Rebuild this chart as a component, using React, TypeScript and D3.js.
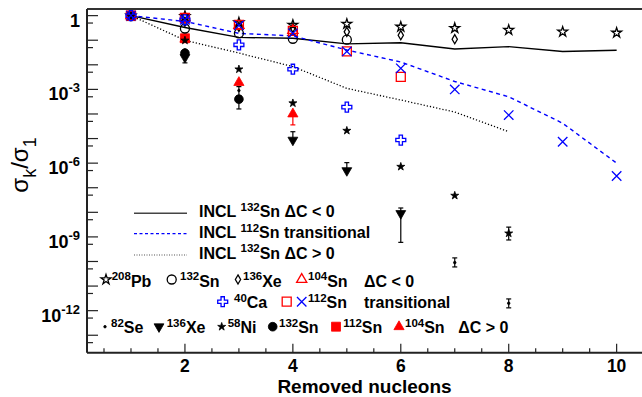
import * as d3 from "d3";

const W = 642;
const H = 397;
const FONT = "'Liberation Sans', Arial, Helvetica, sans-serif";

const STEPS = [1, 2, 3, 4, 5, 6, 7, 8, 9, 10];

// INCL curves (x = 1..n)
const INCL_132SN_NEG = [1, 0.33, 0.13, 0.12, 0.071, 0.079, 0.044, 0.055, 0.035, 0.039];
const INCL_112SN_TRANS = [1, 0.58, 0.19, 0.15, 0.04, 0.013, 2.1e-3, 5e-4, 4.2e-5, 1e-6];
const INCL_132SN_POS = [1, 0.1, 0.03, 8.5e-3, 1.1e-3, 3.7e-4, 1.2e-4, 1.9e-5];

// data, ΔC < 0
const PB208 = [1, 0.95, 0.52, 0.42, 0.46, 0.35, 0.31, 0.26, 0.22, 0.2];
const SN132_OPEN = [1, 0.3, 0.19, 0.115, 0.105];
const XE136_OPEN = [1, 0.56, 0.35, 0.32, 0.22, 0.16, 0.11];
const SN104_OPEN = [1, 0.83, 0.4, 0.25];

// data, transitional
const CA40 = [1, 0.68, 0.065, 6.6e-3, 1.9e-4, 8.7e-6];
const SN112_SQ = [1, 0.8, 0.42, 0.24, 0.035, 3.2e-3];
const SN112_X = [1, 0.68, 0.4, 0.19, 0.035, 7.2e-3, 1e-3, 9e-5, 7.4e-6, 3e-7];

// data, ΔC > 0
const SE82_STEPS = [1, 2, 3, 7, 8];
const SE82 = [1, 0.04, 9e-4, 9e-11, 2e-12];
const XE136_STEPS = [1, 2, 4, 5, 6];
const XE136_FULL = [1, 0.02, 8.7e-6, 5e-7, 9e-9];
const NI58 = [1, 0.098, 6.6e-3, 2.75e-4, 2.1e-5, 7.2e-7, 4.8e-8, 1.4e-9];
const SN132_FULL = [1, 0.03, 4e-4];
const SN112_FULL = [1, 0.12];
const SN104_FULL = [1, 0.11, 1.9e-3, 1e-4];

// error bars: series, step, low, high
const ERRORS: [string, number, number, number][] = [
  ["sn132f", 3, 1.6e-4, 4e-4],
  ["sn104f", 4, 3.6e-5, 1e-4],
  ["xe136f", 2, 0.012, 0.02],
  ["xe136f", 4, 8.7e-6, 1.9e-5],
  ["xe136f", 5, 5e-7, 1.05e-6],
  ["xe136f", 6, 6e-10, 1.5e-8],
  ["ni58", 8, 7.5e-10, 2.5e-9],
  ["se82", 3, 5.5e-4, 1.3e-3],
  ["se82", 7, 6e-11, 1.4e-10],
  ["se82", 8, 1.3e-12, 3e-12],
];

const x = d3.scaleLinear().domain([0.185, 10.47]).range([87, 642]);
const y = d3.scaleLog().domain([Math.pow(10, -13.71), Math.pow(10, 0.27)]).range([352.7, 9]);

type MK =
  | "starOpen" | "circleOpen" | "diamondOpen" | "triOpen" | "crossOpen" | "squareOpen" | "times"
  | "dot" | "triDown" | "starFull" | "circleFull" | "squareFull" | "triFull";

const SYM: Record<MK, [d3.SymbolType, number, boolean, number]> = {
  starOpen: [d3.symbolStar, 30, false, 0],
  circleOpen: [d3.symbolCircle, 64, false, 0],
  diamondOpen: [d3.symbolDiamond, 24, false, 0],
  triOpen: [d3.symbolTriangle, 45, false, 0],
  crossOpen: [d3.symbolCross, 55, false, 0],
  squareOpen: [d3.symbolSquare, 81, false, 0],
  times: [(d3 as any).symbolTimes || (d3 as any).symbolX, 60, false, 0],
  dot: [d3.symbolCircle, 5, true, 0],
  triDown: [d3.symbolTriangle, 42, true, 180],
  starFull: [d3.symbolStar, 20, true, 0],
  circleFull: [d3.symbolCircle, 60, true, 0],
  squareFull: [d3.symbolSquare, 81, true, 0],
  triFull: [d3.symbolTriangle, 45, true, 0],
};

function Marker({ cx, cy, type, color }: { cx: number; cy: number; type: MK; color: string }) {
  const [sym, size, filled, rot] = SYM[type];
  const d = d3.symbol(sym, size)() || "";
  return (
    <path
      d={d}
      transform={`translate(${cx},${cy}) rotate(${rot})`}
      fill={filled ? color : "none"}
      stroke={color}
      strokeWidth={filled ? 0.8 : 1.3}
    />
  );
}

const RED = "#ff0000";
const BLUE = "#0000ff";
const BLACK = "#000";

const SERIES: { key: string; steps: number[]; values: number[]; type: MK; color: string }[] = [
  { key: "sn112f", steps: STEPS, values: SN112_FULL, type: "squareFull", color: RED },
  { key: "sn104f", steps: STEPS, values: SN104_FULL, type: "triFull", color: RED },
  { key: "sn132f", steps: STEPS, values: SN132_FULL, type: "circleFull", color: BLACK },
  { key: "xe136f", steps: XE136_STEPS, values: XE136_FULL, type: "triDown", color: BLACK },
  { key: "ni58", steps: STEPS, values: NI58, type: "starFull", color: BLACK },
  { key: "se82", steps: SE82_STEPS, values: SE82, type: "dot", color: BLACK },
  { key: "sn132o", steps: STEPS, values: SN132_OPEN, type: "circleOpen", color: BLACK },
  { key: "xe136o", steps: STEPS, values: XE136_OPEN, type: "diamondOpen", color: BLACK },
  { key: "sn104o", steps: STEPS, values: SN104_OPEN, type: "triOpen", color: RED },
  { key: "pb208", steps: STEPS, values: PB208, type: "starOpen", color: BLACK },
  { key: "sn112sq", steps: STEPS, values: SN112_SQ, type: "squareOpen", color: RED },
  { key: "sn112x", steps: STEPS, values: SN112_X, type: "times", color: BLUE },
  { key: "ca40", steps: STEPS, values: CA40, type: "crossOpen", color: BLUE },
];

function Nuc({ x0, y0, mass, sym }: { x0: number; y0: number; mass: string; sym: string }) {
  return (
    <text x={x0} y={y0} fontFamily={FONT} fontWeight="bold" fontSize={16}>
      <tspan fontSize={11.5} dy={-6.5}>{mass}</tspan>
      <tspan dy={6.5}>{sym}</tspan>
    </text>
  );
}

export default function App() {
  const line = d3
    .line<number>()
    .x((_, i) => x(i + 1))
    .y((v) => y(v));

  const yDecades = d3.range(-13, 1);
  const yFives = d3.range(-14, 0).map((e) => 5 * Math.pow(10, e)).filter((v) => v > y.domain()[0]);
  const yLabels = [0, -3, -6, -9, -12];
  const xTicks = d3.range(0.5, 10.01, 0.5);
  const xLabels = [2, 4, 6, 8, 10];

  const colorOf = (k: string) => SERIES.find((s) => s.key === k)!.color;

  return (
    <svg width={W} height={H} style={{ position: "absolute", left: 0, top: 0, background: "#fff" }}>
      {/* INCL curves */}
      <path d={line(INCL_132SN_NEG) || ""} fill="none" stroke="#000" strokeWidth={1.4} />
      <path d={line(INCL_112SN_TRANS) || ""} fill="none" stroke={BLUE} strokeWidth={1.4} strokeDasharray="4,3.5" />
      <path d={line(INCL_132SN_POS) || ""} fill="none" stroke="#000" strokeWidth={1.3} strokeDasharray="1.2,2" />

      {/* error bars */}
      {ERRORS.map(([k, s, lo, hi], i) => {
        const c = colorOf(k);
        const cx = x(s);
        return (
          <g key={"e" + i} stroke={c} strokeWidth={1.2}>
            <line x1={cx} x2={cx} y1={y(lo)} y2={y(hi)} />
            <line x1={cx - 2.5} x2={cx + 2.5} y1={y(lo)} y2={y(lo)} />
            <line x1={cx - 2.5} x2={cx + 2.5} y1={y(hi)} y2={y(hi)} />
          </g>
        );
      })}

      {/* data points */}
      {SERIES.map((s) =>
        s.values.map((v, i) => (
          <Marker key={s.key + i} cx={x(s.steps[i])} cy={y(v)} type={s.type} color={s.color} />
        ))
      )}

      {/* frame */}
      <line x1={87} x2={642} y1={9} y2={9} stroke="#333" strokeWidth={2} />
      <line x1={87} x2={642} y1={352.7} y2={352.7} stroke="#222" strokeWidth={2} />
      <line x1={87} x2={87} y1={9} y2={352.7} stroke="#222" strokeWidth={2} />

      {/* y ticks */}
      {yDecades.map((e) => (
        <line key={"yd" + e} x1={87} x2={98} y1={y(Math.pow(10, e))} y2={y(Math.pow(10, e))} stroke="#222" strokeWidth={1.2} />
      ))}
      {yFives.map((v, i) => (
        <line key={"yf" + i} x1={87} x2={93} y1={y(v)} y2={y(v)} stroke="#222" strokeWidth={1.2} />
      ))}
      {yLabels.map((e) => (
        <text key={"yl" + e} x={80} y={y(Math.pow(10, e)) + 11} textAnchor="end" fontFamily={FONT} fontWeight="bold" fontSize={18}>
          {e === 0 ? (
            "1"
          ) : (
            <>
              <tspan>10</tspan>
              <tspan fontSize={13} dy={-8}>{String(e)}</tspan>
            </>
          )}
        </text>
      ))}

      {/* x ticks */}
      {xTicks.map((t) => {
        const major = Math.abs(t % 2) < 1e-6;
        return (
          <line key={"xt" + t} x1={x(t)} x2={x(t)} y1={352.7} y2={352.7 - (major ? 9 : 4.5)} stroke="#222" strokeWidth={1.2} />
        );
      })}
      {xLabels.map((t) => (
        <text key={"xl" + t} x={x(t)} y={372} textAnchor="middle" fontFamily={FONT} fontWeight="bold" fontSize={17.5}>
          {t}
        </text>
      ))}
      <text x={364.5} y={393} textAnchor="middle" fontFamily={FONT} fontWeight="bold" fontSize={19}>
        Removed nucleons
      </text>

      {/* y title */}
      <text transform="translate(28,165) rotate(-90)" textAnchor="middle" fontFamily={FONT} fontSize={24}>
        <tspan>σ</tspan>
        <tspan fontSize={18} dy={8}>k</tspan>
        <tspan dy={-8}>/σ</tspan>
        <tspan fontSize={18} dy={8}>1</tspan>
      </text>

      {/* legend: INCL lines */}
      <line x1={134} x2={187} y1={213.3} y2={213.3} stroke="#444" strokeWidth={1.4} />
      <line x1={134} x2={187} y1={233.7} y2={233.7} stroke={BLUE} strokeWidth={1.2} strokeDasharray="3,2.5" />
      <line x1={134} x2={187} y1={255} y2={255} stroke="#555" strokeWidth={1.2} strokeDasharray="1,1.5" />
      {[
        [217, "132", "Sn ΔC < 0"],
        [238, "112", "Sn transitional"],
        [258.5, "132", "Sn ΔC > 0"],
      ].map(([yy, m, rest]) => (
        <text key={"li" + yy} x={199} y={yy as number} fontFamily={FONT} fontWeight="bold" fontSize={16}>
          INCL{" "}
          <tspan fontSize={11.5} dy={-6.5}>{m}</tspan>
          <tspan dy={6.5}>{rest}</tspan>
        </text>
      ))}

      {/* legend: markers row 1 */}
      <Marker cx={106} cy={279.5} type="starOpen" color={BLACK} />
      <Nuc x0={111.7} y0={286.7} mass="208" sym="Pb" />
      <Marker cx={171.7} cy={279.5} type="circleOpen" color={BLACK} />
      <Nuc x0={180} y0={286.7} mass="132" sym="Sn" />
      <Marker cx={238} cy={279.5} type="diamondOpen" color={BLACK} />
      <Nuc x0={243} y0={286.7} mass="136" sym="Xe" />
      <Marker cx={301.7} cy={279.5} type="triOpen" color={RED} />
      <Nuc x0={308} y0={286.7} mass="104" sym="Sn" />
      <text x={364} y={286.7} fontFamily={FONT} fontWeight="bold" fontSize={16}>ΔC &lt; 0</text>

      {/* row 2 */}
      <Marker cx={222.7} cy={301.7} type="crossOpen" color={BLUE} />
      <Nuc x0={234} y0={308.3} mass="40" sym="Ca" />
      <Marker cx={286.7} cy={301.7} type="squareOpen" color={RED} />
      <Marker cx={301.7} cy={301.7} type="times" color={BLUE} />
      <Nuc x0={308} y0={308.3} mass="112" sym="Sn" />
      <text x={364} y={308.3} fontFamily={FONT} fontWeight="bold" fontSize={16}>transitional</text>

      {/* row 3 */}
      <Marker cx={105} cy={326.7} type="dot" color={BLACK} />
      <Nuc x0={111} y0={333.3} mass="82" sym="Se" />
      <Marker cx={159} cy={326.7} type="triDown" color={BLACK} />
      <Nuc x0={166.7} y0={333.3} mass="136" sym="Xe" />
      <Marker cx={221.7} cy={326.7} type="starFull" color={BLACK} />
      <Nuc x0={227.7} y0={333.3} mass="58" sym="Ni" />
      <Marker cx={272.7} cy={326.7} type="circleFull" color={BLACK} />
      <Nuc x0={279} y0={333.3} mass="132" sym="Sn" />
      <Marker cx={336} cy={326.7} type="squareFull" color={RED} />
      <Nuc x0={343.3} y0={333.3} mass="112" sym="Sn" />
      <Marker cx={399} cy={326.7} type="triFull" color={RED} />
      <Nuc x0={405} y0={333.3} mass="104" sym="Sn" />
      <text x={458.3} y={333.3} fontFamily={FONT} fontWeight="bold" fontSize={16}>ΔC &gt; 0</text>
    </svg>
  );
}
